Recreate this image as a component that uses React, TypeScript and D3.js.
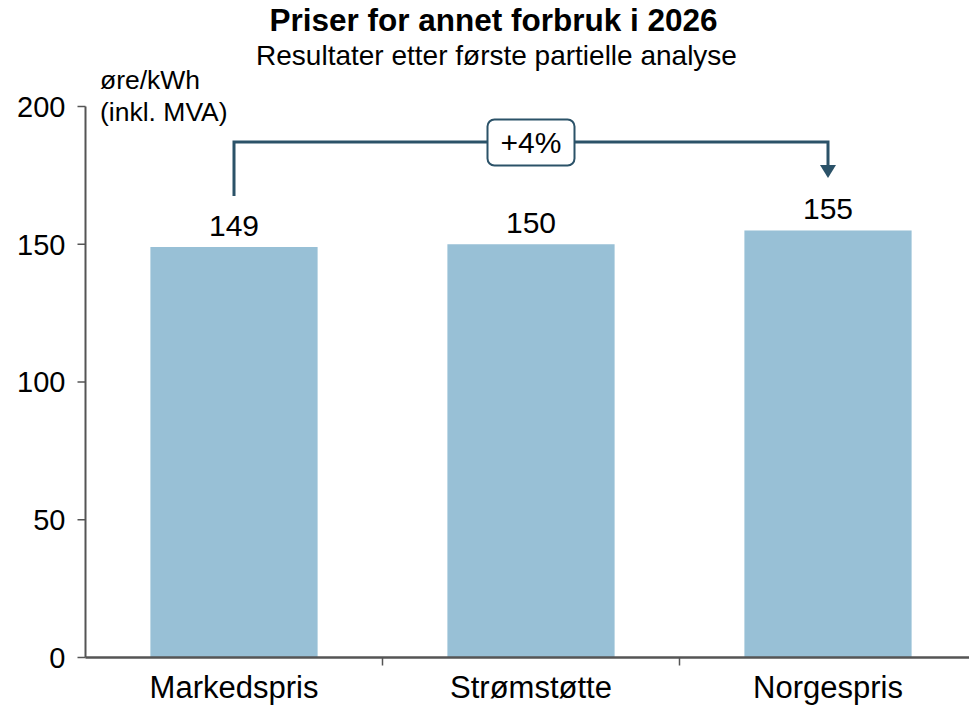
import React from "react";
import * as d3 from "d3";

const categories = ["Markedspris", "Strømstøtte", "Norgespris"];
const values = [149, 150, 155];
const yTicks = [0, 50, 100, 150, 200];
const title = "Priser for annet forbruk i 2026";
const subtitle = "Resultater etter første partielle analyse";
const unitLines = ["øre/kWh", "(inkl. MVA)"];
const changeLabel = "+4%";

const W = 969;
const H = 705;
const FONT = "'Liberation Sans', Arial, Helvetica, sans-serif";

export default function App() {
  const x0 = 85.5;
  const step = 297;
  // category slots (tick boundaries)
  const slot = d3
    .scaleBand<string>()
    .domain(categories)
    .range([x0, x0 + step * categories.length])
    .padding(0);
  const barFrac = 0.563;
  const y = d3.scaleLinear().domain([0, 200]).range([657.5, 106.5]);
  const axisColor = "#555";
  const barColor = "#98c0d6";
  const annColor = "#2b5268";

  const cx = (c: string) => (slot(c) as number) + slot.bandwidth() / 2;
  const bw = slot.bandwidth() * barFrac;
  const fromX = cx(categories[0]);
  const toX = cx(categories[2]);
  const lineY = 142;
  const midX = cx(categories[1]);

  return (
    <svg
      width={W}
      height={H}
      style={{ position: "absolute", left: 0, top: 0, fontFamily: FONT }}
    >
      <rect width={W} height={H} fill="#fff" />
      <text x={493.5} y={31} textAnchor="middle" fontSize={31.5} fontWeight="bold" fill="#000">
        {title}
      </text>
      <text x={496.5} y={65} textAnchor="middle" fontSize={28} fill="#000">
        {subtitle}
      </text>
      {unitLines.map((t, i) => (
        <text key={t} x={100} y={89 + i * 32} fontSize={26.5} fill="#000">
          {t}
        </text>
      ))}

      {/* bars */}
      {categories.map((c, i) => (
        <g key={c}>
          <rect
            x={cx(c) - bw / 2}
            y={y(values[i])}
            width={bw}
            height={y(0) - y(values[i])}
            fill={barColor}
          />
          <text
            x={cx(c)}
            y={y(values[i]) - 11}
            textAnchor="middle"
            fontSize={30}
            fill="#000"
          >
            {values[i]}
          </text>
        </g>
      ))}

      {/* y axis */}
      <line x1={x0} x2={x0} y1={y(200)} y2={y(0)} stroke={axisColor} strokeWidth={2} />
      {yTicks.map((t) => (
        <g key={t}>
          <line x1={x0 - 8} x2={x0} y1={y(t)} y2={y(t)} stroke={axisColor} strokeWidth={1.5} />
          <text x={x0 - 20} y={y(t)} dy="0.36em" textAnchor="end" fontSize={29} fill="#000">
            {t}
          </text>
        </g>
      ))}

      {/* x axis */}
      <line x1={x0} x2={W} y1={y(0)} y2={y(0)} stroke={axisColor} strokeWidth={2.5} />
      {categories.slice(1).map((c) => (
        <line
          key={c}
          x1={slot(c)}
          x2={slot(c)}
          y1={y(0)}
          y2={y(0) + 8}
          stroke={axisColor}
          strokeWidth={1.5}
        />
      ))}
      {categories.map((c) => (
        <text key={c} x={cx(c)} y={698} textAnchor="middle" fontSize={31} fill="#000">
          {c}
        </text>
      ))}

      {/* annotation */}
      <path
        d={`M${fromX},196 V${lineY} H${toX} V166`}
        fill="none"
        stroke={annColor}
        strokeWidth={3}
      />
      <path d={`M${toX - 8},165 L${toX + 8},165 L${toX},178 Z`} fill={annColor} />
      <rect
        x={midX - 43.5}
        y={119.5}
        width={87}
        height={46}
        rx={7}
        fill="#fff"
        stroke={annColor}
        strokeWidth={2}
      />
      <text x={midX} y={142} dy="0.36em" textAnchor="middle" fontSize={30} fill="#000">
        {changeLabel}
      </text>
    </svg>
  );
}
